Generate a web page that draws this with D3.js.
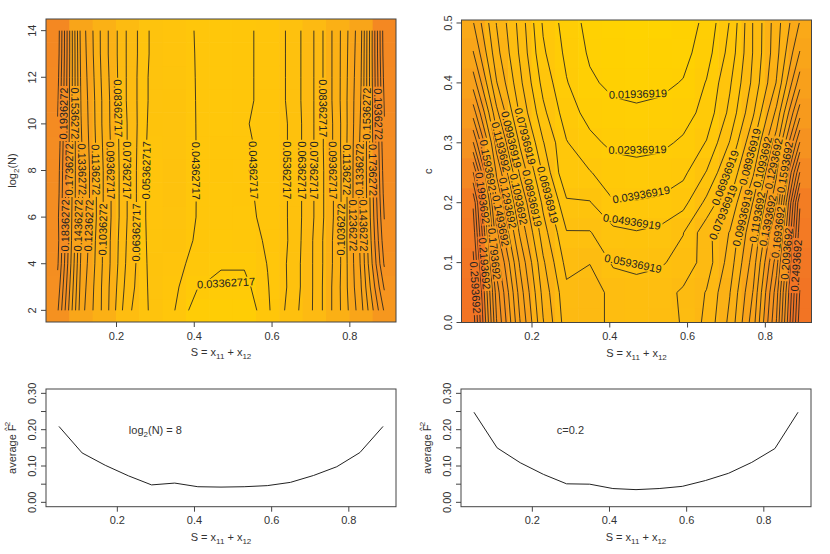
<!DOCTYPE html>
<html><head><meta charset="utf-8">
<script src="https://cdn.jsdelivr.net/npm/d3@7"></script>
<style>
body{margin:0;background:#fff}
text{font-family:"Liberation Sans",Arial,Helvetica,sans-serif}
</style>
</head><body>
<svg id="chart" width="830" height="554"></svg>
<script>
// ---------------- data ----------------
const S_GRID = [0.05,0.11,0.17,0.23,0.29,0.35,0.41,0.47,0.53,0.59,0.65,0.71,0.77,0.83,0.89];
const LOG2N_GRID = [2,3,4,5,6,7,8,9,10,11,12,13,14];
const C_GRID = [0,0.05,0.10,0.15,0.20,0.25,0.30,0.35,0.40,0.45,0.50];

// average F^2 on the (S, log2 N) grid, one row per log2(N)
const F2_BY_LOG2N = [
  [0.195,0.128,0.100,0.066,0.052,0.044,0.027,0.024,0.024,0.042,0.058,0.075,0.100,0.130,0.175],
  [0.200,0.130,0.100,0.069,0.051,0.046,0.034,0.030,0.030,0.043,0.056,0.075,0.100,0.133,0.185],
  [0.205,0.132,0.101,0.071,0.050,0.048,0.039,0.035,0.035,0.044,0.056,0.075,0.099,0.135,0.195],
  [0.207,0.134,0.101,0.072,0.049,0.050,0.042,0.038,0.039,0.045,0.055,0.075,0.099,0.136,0.200],
  [0.206,0.136,0.102,0.073,0.048,0.052,0.043,0.040,0.041,0.046,0.055,0.074,0.098,0.137,0.204],
  [0.208,0.136,0.102,0.073,0.048,0.053,0.043,0.041,0.042,0.046,0.055,0.074,0.098,0.137,0.207],
  [0.209,0.136,0.102,0.073,0.048,0.053,0.043,0.042,0.043,0.046,0.055,0.074,0.098,0.137,0.209],
  [0.211,0.135,0.101,0.073,0.049,0.052,0.043,0.042,0.042,0.046,0.055,0.074,0.099,0.136,0.211],
  [0.213,0.134,0.100,0.073,0.050,0.051,0.043,0.041,0.043,0.046,0.055,0.074,0.099,0.135,0.213],
  [0.215,0.133,0.100,0.072,0.051,0.050,0.043,0.041,0.042,0.046,0.056,0.074,0.100,0.134,0.215],
  [0.217,0.132,0.099,0.072,0.051,0.049,0.043,0.041,0.042,0.046,0.056,0.074,0.100,0.133,0.217],
  [0.219,0.131,0.098,0.072,0.052,0.048,0.043,0.041,0.042,0.046,0.056,0.074,0.100,0.132,0.219],
  [0.220,0.130,0.098,0.072,0.052,0.047,0.043,0.041,0.042,0.046,0.056,0.074,0.100,0.131,0.220]
];

// average F^2 on the (S, c) grid, one row per c
const F2_BY_C = [
  [0.275,0.190,0.140,0.100,0.074,0.075,0.066,0.064,0.066,0.070,0.082,0.102,0.135,0.190,0.275],
  [0.270,0.185,0.135,0.096,0.072,0.075,0.066,0.063,0.065,0.071,0.080,0.099,0.130,0.185,0.270],
  [0.262,0.175,0.128,0.091,0.066,0.069,0.058,0.057,0.058,0.063,0.074,0.094,0.124,0.175,0.262],
  [0.255,0.162,0.118,0.084,0.060,0.060,0.052,0.050,0.052,0.059,0.076,0.090,0.118,0.162,0.255],
  [0.248,0.150,0.109,0.077,0.051,0.050,0.040,0.040,0.041,0.046,0.062,0.080,0.110,0.148,0.248],
  [0.220,0.138,0.098,0.068,0.040,0.040,0.034,0.033,0.034,0.037,0.050,0.070,0.098,0.138,0.220],
  [0.190,0.125,0.088,0.060,0.040,0.032,0.027,0.026,0.027,0.031,0.040,0.060,0.088,0.125,0.190],
  [0.165,0.112,0.078,0.052,0.034,0.026,0.022,0.021,0.022,0.025,0.033,0.052,0.078,0.112,0.165],
  [0.145,0.100,0.072,0.046,0.030,0.021,0.017,0.016,0.017,0.020,0.030,0.048,0.072,0.100,0.145],
  [0.130,0.093,0.068,0.041,0.027,0.018,0.014,0.013,0.014,0.016,0.025,0.043,0.070,0.096,0.130],
  [0.120,0.089,0.066,0.038,0.025,0.016,0.012,0.010,0.011,0.014,0.022,0.040,0.070,0.095,0.120]
];

// profiles shown in the lower panels
const F2_AT_LOG2N_8 = [0.209,0.136,0.102,0.073,0.048,0.053,0.043,0.042,0.043,0.046,0.055,0.074,0.098,0.137,0.209];
const F2_AT_C_0_2   = [0.248,0.150,0.109,0.077,0.051,0.050,0.038,0.035,0.038,0.044,0.060,0.080,0.110,0.148,0.248];

// contour levels
const LEVEL_START_N = 0.03362717, LEVEL_COUNT_N = 19;
const LEVEL_START_C = 0.01936919, LEVEL_COUNT_C = 26;
const LEVEL_STEP = 0.01;

// ticks
const X_TICKS = [0.2,0.4,0.6,0.8];
const LOG2N_TICKS = [2,4,6,8,10,12,14];
const C_TICKS = [0,0.1,0.2,0.3,0.4,0.5];
const F2_TICKS = [0,0.05,0.10,0.15,0.20,0.25,0.30];
const F2_TICK_LABELS = [0,0.10,0.20,0.30];

// ---------------- drawing ----------------
const svg = d3.select("#chart");
const INK = "#222";
const AXIS = "#444";
const FS = 11;

const heat = d3.scaleLinear()
  .domain([0.01,0.04,0.075,0.135,0.21,0.27])
  .range(["#FFD300","#FFC70A","#FDBA12","#F9A31A","#F48C22","#F27424"])
  .clamp(true);

function panel(id, box, xd, yd) {
  const p = {id, ...box};
  p.x = d3.scaleLinear().domain(xd).range([box.l, box.r]);
  p.y = d3.scaleLinear().domain(yd).range([box.b, box.t]);
  p.g = svg.append("g");
  svg.append("clipPath").attr("id","clip"+id).append("rect")
    .attr("x",box.l).attr("y",box.t).attr("width",box.r-box.l).attr("height",box.b-box.t);
  return p;
}

function edges(a) {
  const e = [a[0] - (a[1]-a[0])/2];
  for (let i=0;i<a.length-1;i++) e.push((a[i]+a[i+1])/2);
  e.push(a[a.length-1] + (a[a.length-1]-a[a.length-2])/2);
  return e;
}

function drawHeat(p, xs, ys, z) {
  const xe = edges(xs), ye = edges(ys);
  const cells = [];
  z.forEach((row,j)=>row.forEach((v,i)=>cells.push({i,j,v})));
  p.g.append("g").attr("clip-path","url(#clip"+p.id+")")
    .selectAll("rect").data(cells).join("rect")
    .attr("x",d=>p.x(xe[d.i]))
    .attr("y",d=>p.y(ye[d.j+1]))
    .attr("width",d=>p.x(xe[d.i+1])-p.x(xe[d.i])+0.6)
    .attr("height",d=>p.y(ye[d.j])-p.y(ye[d.j+1])+0.6)
    .attr("fill",d=>heat(d.v));
}

// marching squares on a rectilinear grid -> polylines in data coords
function contourLines(xs, ys, z, level) {
  const nx = xs.length, ny = ys.length;
  const pts = {};
  const segs = [];
  function ep(key, i0,j0,i1,j1) {
    if (!pts[key]) {
      const a = z[j0][i0], b = z[j1][i1];
      const t = (level - a)/(b - a);
      pts[key] = [xs[i0] + t*(xs[i1]-xs[i0]), ys[j0] + t*(ys[j1]-ys[j0])];
    }
    return key;
  }
  for (let j=0;j<ny-1;j++) for (let i=0;i<nx-1;i++) {
    const v0=z[j][i], v1=z[j][i+1], v2=z[j+1][i+1], v3=z[j+1][i];
    const b0=v0>=level, b1=v1>=level, b2=v2>=level, b3=v3>=level;
    const e = [];
    const E0 = b0!==b1 ? ep("h"+i+"_"+j, i,j,i+1,j) : null;
    const E1 = b1!==b2 ? ep("v"+(i+1)+"_"+j, i+1,j,i+1,j+1) : null;
    const E2 = b3!==b2 ? ep("h"+i+"_"+(j+1), i,j+1,i+1,j+1) : null;
    const E3 = b0!==b3 ? ep("v"+i+"_"+j, i,j,i,j+1) : null;
    [E0,E1,E2,E3].forEach(k=>{ if(k) e.push(k); });
    if (e.length===2) segs.push(e);
    else if (e.length===4) {
      const bc = (v0+v1+v2+v3)/4 >= level;
      if (bc===b0) { segs.push([E0,E1]); segs.push([E2,E3]); }
      else { segs.push([E3,E0]); segs.push([E1,E2]); }
    }
  }
  const adj = new Map();
  segs.forEach((s,idx)=>s.forEach(k=>{ if(!adj.has(k)) adj.set(k,[]); adj.get(k).push(idx); }));
  const used = new Array(segs.length).fill(false);
  const lines = [];
  for (let s0=0;s0<segs.length;s0++) {
    if (used[s0]) continue;
    used[s0]=true;
    const chain = [segs[s0][0], segs[s0][1]];
    for (let dir=0;dir<2;dir++) {
      for(;;) {
        const end = chain[chain.length-1];
        const nxt = (adj.get(end)||[]).find(k=>!used[k]);
        if (nxt===undefined) break;
        used[nxt]=true;
        const s = segs[nxt];
        chain.push(s[0]===end ? s[1] : s[0]);
      }
      chain.reverse();
    }
    lines.push(chain.map(k=>pts[k]));
  }
  return lines;
}

function measure(txt) {
  const t = svg.append("text").attr("font-size",FS).text(txt);
  const w = t.node().getComputedTextLength();
  t.remove();
  return w;
}

function rectCorners(r) {
  const a = r.ang*Math.PI/180, c=Math.cos(a), s=Math.sin(a);
  return [[-r.hw,-r.hh],[r.hw,-r.hh],[r.hw,r.hh],[-r.hw,r.hh]]
    .map(([u,v])=>[r.cx+u*c-v*s, r.cy+u*s+v*c]);
}
function overlaps(r1,r2) {
  const A=rectCorners(r1), B=rectCorners(r2);
  for (const P of [A,B]) for (let k=0;k<4;k++) {
    const p1=P[k], p2=P[(k+1)%4];
    const nx=p2[1]-p1[1], ny=-(p2[0]-p1[0]);
    const pa=A.map(q=>q[0]*nx+q[1]*ny), pb=B.map(q=>q[0]*nx+q[1]*ny);
    if (Math.max(...pa) < Math.min(...pb) || Math.max(...pb) < Math.min(...pa)) return false;
  }
  return true;
}

function drawContours(p, xs, ys, z, start, count) {
  const maskId = "mask"+p.id;
  const mask = svg.append("mask").attr("id",maskId)
    .attr("maskUnits","userSpaceOnUse").attr("x",0).attr("y",0).attr("width",830).attr("height",554);
  mask.append("rect").attr("x",0).attr("y",0).attr("width",830).attr("height",554).attr("fill","#fff");
  const lineG = p.g.append("g").attr("mask","url(#"+maskId+")").attr("clip-path","url(#clip"+p.id+")");
  const labG = p.g.append("g");
  const line = d3.line().x(d=>p.x(d[0])).y(d=>p.y(d[1]));
  const placed = [];
  const h = 8.5;
  for (let k=0;k<count;k++) {
    const level = start + k*LEVEL_STEP;
    const txt = (+level.toPrecision(7)).toString();
    const w = measure(txt);
    const lines = contourLines(xs, ys, z, level);
    lines.forEach(pl=>{
      lineG.append("path").attr("d",line(pl)).attr("fill","none")
        .attr("stroke",INK).attr("stroke-width",0.85);
      const P = pl.map(d=>[p.x(d[0]),p.y(d[1])]);
      const cum=[0];
      for (let m=1;m<P.length;m++) cum.push(cum[m-1]+Math.hypot(P[m][0]-P[m-1][0],P[m][1]-P[m-1][1]));
      const L = cum[cum.length-1];
      if (L < w+10) return;
      const at = s => {
        let m=1; while (m<cum.length-1 && cum[m]<s) m++;
        const seg = cum[m]-cum[m-1] || 1, t=(s-cum[m-1])/seg;
        return [P[m-1][0]+t*(P[m][0]-P[m-1][0]), P[m-1][1]+t*(P[m][1]-P[m-1][1])];
      };
      const cands=[];
      for (let s=w/2+3; s<=L-w/2-3; s+=2) {
        if (Math.abs(s-L/2) > 0.24*L) continue;
        const a=at(s-w/2), b=at(s+w/2);
        const ch=Math.hypot(b[0]-a[0],b[1]-a[1]) || 1;
        let dev=0;
        for (let m=0;m<P.length;m++) if (cum[m]>s-w/2 && cum[m]<s+w/2) {
          const d=Math.abs((b[0]-a[0])*(a[1]-P[m][1])-(a[0]-P[m][0])*(b[1]-a[1]))/ch;
          if (d>dev) dev=d;
        }
        cands.push({a,b,score:dev*0.4 + Math.abs(s-L/2)/L*40});
      }
      cands.sort((u,v)=>u.score-v.score);
      for (const c of cands) {
        let ang = Math.atan2(c.b[1]-c.a[1], c.b[0]-c.a[0])*180/Math.PI;
        if (ang>90) ang-=180; else if (ang<=-90) ang+=180;
        const r = {cx:(c.a[0]+c.b[0])/2, cy:(c.a[1]+c.b[1])/2, ang, hw:w/2+1.5, hh:h/2+0.8};
        const cs = rectCorners(r);
        if (cs.some(q=>q[0]<p.l+1||q[0]>p.r-1||q[1]<p.t+1||q[1]>p.b-1)) continue;
        if (placed.some(o=>overlaps(o,r))) continue;
        placed.push(r);
        mask.append("rect").attr("x",-r.hw).attr("y",-r.hh).attr("width",2*r.hw).attr("height",2*r.hh)
          .attr("fill","#000").attr("transform",`translate(${r.cx},${r.cy}) rotate(${r.ang})`);
        labG.append("text").attr("font-size",FS).attr("fill",INK)
          .attr("text-anchor","middle").attr("dy","0.36em")
          .attr("transform",`translate(${r.cx},${r.cy}) rotate(${r.ang})`).text(txt);
        break;
      }
    });
  }
}

function frame(p) {
  p.g.append("rect").attr("x",p.l).attr("y",p.t).attr("width",p.r-p.l).attr("height",p.b-p.t)
    .attr("fill","none").attr("stroke",AXIS).attr("stroke-width",1);
}

function xAxis(p, ticks, fmt) {
  const g = p.g.append("g").attr("transform",`translate(0,${p.b})`)
    .call(d3.axisBottom(p.x).tickValues(ticks).tickSize(5).tickPadding(5).tickFormat(fmt));
  g.select(".domain").remove();
  g.selectAll("line").attr("stroke",AXIS);
  g.selectAll("text").attr("font-size",FS).attr("fill","#333")
    .attr("font-family","Liberation Sans, Arial, sans-serif");
}

function yAxis(p, ticks, labelled, fmt) {
  const g = p.g.append("g");
  g.selectAll("line").data(ticks).join("line")
    .attr("x1",p.l-5).attr("x2",p.l).attr("y1",d=>p.y(d)).attr("y2",d=>p.y(d)).attr("stroke",AXIS);
  g.selectAll("text").data(labelled).join("text")
    .attr("font-size",FS).attr("fill","#333").attr("text-anchor","middle")
    .attr("transform",d=>`translate(${p.l-10},${p.y(d)}) rotate(-90)`).text(fmt);
}

function xTitle(p) {
  const t = p.g.append("text").attr("x",(p.l+p.r)/2).attr("y",p.b+34)
    .attr("text-anchor","middle").attr("font-size",FS).attr("fill","#333");
  t.append("tspan").text("S = x");
  t.append("tspan").attr("font-size",8).attr("dy",3).text("11");
  t.append("tspan").attr("dy",-3).text(" + x");
  t.append("tspan").attr("font-size",8).attr("dy",3).text("12");
}

function yTitle(p, build) {
  const t = p.g.append("text").attr("text-anchor","middle").attr("font-size",FS).attr("fill","#333")
    .attr("transform",`translate(${p.l-30},${(p.t+p.b)/2}) rotate(-90)`);
  build(t);
}
const log2N = t=>{
  t.append("tspan").text("log");
  t.append("tspan").attr("font-size",8).attr("dy",3).text("2");
  t.append("tspan").attr("dy",-3).text("(N)");
};
const avgF = t=>{
  t.append("tspan").text("average F");
  t.append("tspan").attr("font-size",8).attr("dx",-6.5).attr("dy",-7).text("^");
  t.append("tspan").attr("font-size",8).attr("dx",1).attr("dy",1).text("2");
};

// ---- panels ----
const TL = panel("tl",{l:46,t:19,r:396,b:322},[0.02,0.92],[1.5,14.5]);
const TR = panel("tr",{l:461.5,t:20,r:811.5,b:322.5},[0.02,0.92],[0,0.505]);
const BL = panel("bl",{l:46,t:389,r:396,b:506.7},[0.0164,0.9236],[-0.012,0.312]);
const BR = panel("br",{l:461,t:389,r:811,b:506.7},[0.0164,0.9236],[-0.012,0.312]);

drawHeat(TL, S_GRID, LOG2N_GRID, F2_BY_LOG2N);
drawContours(TL, S_GRID, LOG2N_GRID, F2_BY_LOG2N, LEVEL_START_N, LEVEL_COUNT_N);
frame(TL);
xAxis(TL, X_TICKS, d3.format(".1f"));
yAxis(TL, LOG2N_TICKS, LOG2N_TICKS, d=>d);
xTitle(TL); yTitle(TL, log2N);

drawHeat(TR, S_GRID, C_GRID, F2_BY_C);
drawContours(TR, S_GRID, C_GRID, F2_BY_C, LEVEL_START_C, LEVEL_COUNT_C);
frame(TR);
xAxis(TR, X_TICKS, d3.format(".1f"));
yAxis(TR, C_TICKS, C_TICKS, d3.format(".1f"));
xTitle(TR); yTitle(TR, t=>t.text("c"));

function profile(p, ys, note) {
  const line = d3.line().x((d,i)=>p.x(S_GRID[i])).y(d=>p.y(d));
  p.g.append("path").attr("d",line(ys)).attr("fill","none").attr("stroke",INK).attr("stroke-width",1);
  frame(p);
  xAxis(p, X_TICKS, d3.format(".1f"));
  yAxis(p, F2_TICKS, F2_TICK_LABELS, d3.format(".2f"));
  xTitle(p); yTitle(p, avgF);
  const t = p.g.append("text").attr("x",p.x(0.3)).attr("y",p.y(0.2)).attr("dy","0.35em")
    .attr("text-anchor","middle").attr("font-size",FS).attr("fill","#333");
  note(t);
}
profile(BL, F2_AT_LOG2N_8, t=>{
  t.append("tspan").text("log");
  t.append("tspan").attr("font-size",8).attr("dy",3).text("2");
  t.append("tspan").attr("dy",-3).text("(N) = 8");
});
profile(BR, F2_AT_C_0_2, t=>t.text("c=0.2"));
</script>
</body></html>
